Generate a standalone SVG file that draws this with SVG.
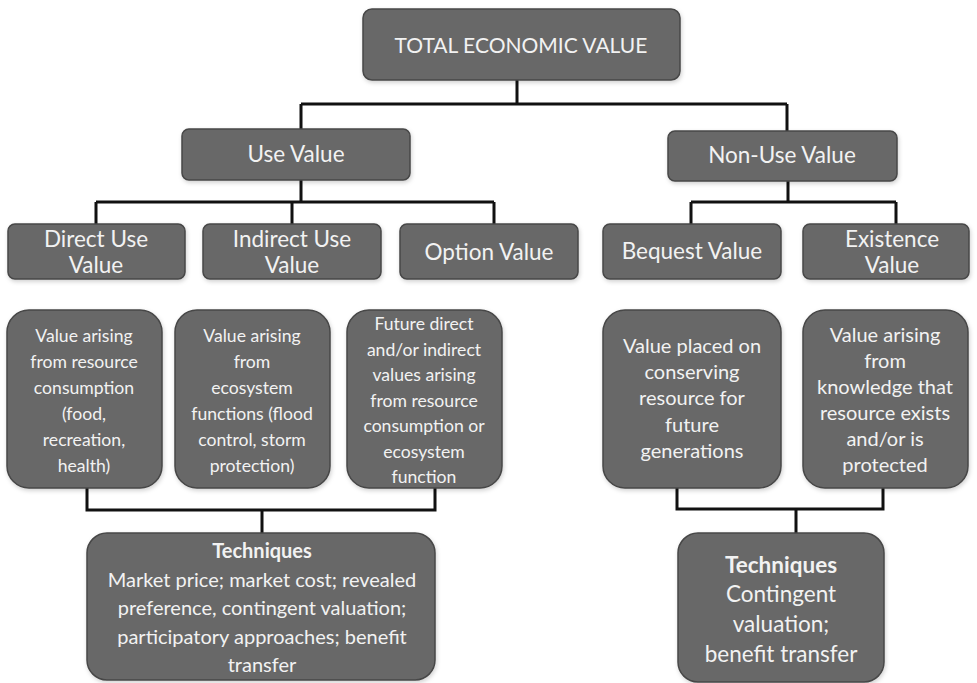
<svg xmlns="http://www.w3.org/2000/svg" width="977" height="683" viewBox="0 0 977 683">
<defs>
<filter id="sh" x="-10%" y="-10%" width="120%" height="125%">
<feDropShadow dx="1" dy="2" stdDeviation="2" flood-color="#000" flood-opacity="0.18"/>
</filter>
<style>
.box{fill:#686868;stroke:#474747;stroke-width:1.5;filter:url(#sh)}
.t{font-family:Lato,"Open Sans","Liberation Sans",sans-serif;fill:#f2f2f2;text-anchor:middle}
.h{font-size:21px}
.m{font-size:22.5px}
.d{font-size:17.6px}
.e{font-size:20px}
.k{font-size:20px}
.r{font-size:22.5px}
.b{font-weight:bold}
.c{fill:none;stroke:#111;stroke-width:3;stroke-linejoin:miter}
</style>
</defs>
<rect width="977" height="683" fill="#fff"/>
<g id="connectors">
<path class="c" d="M517 80V104M301 104H787M301 104V129M787 104V131"/>
<path class="c" d="M301 180V202M96 202H494M96 202V224M292 202V224M494 202V224"/>
<path class="c" d="M788 181V202M691 202H896M691 202V224M896 202V224"/>
<path class="c" d="M87 488V510H435V488M262 510V533"/>
<path class="c" d="M677 488V509H883V488M796 509V533"/>
</g>
<g id="total"><rect class="box" x="363" y="9" width="317" height="71" rx="9"/><text class="t h" x="521" y="53">TOTAL ECONOMIC VALUE</text></g>
<g id="use"><rect class="box" x="182" y="129" width="228" height="51" rx="7"/><text class="t m" x="296" y="162">Use Value</text></g>
<g id="nonuse"><rect class="box" x="668" y="131" width="229" height="50" rx="7"/><text class="t m" x="782" y="163">Non-Use Value</text></g>
<g id="direct"><rect class="box" x="8" y="224" width="177" height="55" rx="7"/><text class="t m" x="96" y="247">Direct Use</text><text class="t m" x="96" y="273">Value</text></g>
<g id="indirect"><rect class="box" x="203" y="224" width="178" height="55" rx="7"/><text class="t m" x="292" y="247">Indirect Use</text><text class="t m" x="292" y="273">Value</text></g>
<g id="option"><rect class="box" x="400" y="224" width="178" height="55" rx="7"/><text class="t m" x="489" y="260">Option Value</text></g>
<g id="bequest"><rect class="box" x="603" y="224" width="178" height="55" rx="7"/><text class="t m" x="692" y="259">Bequest Value</text></g>
<g id="existence"><rect class="box" x="803" y="224" width="166" height="55" rx="7"/><text class="t m" x="892" y="247">Existence</text><text class="t m" x="892" y="273">Value</text></g>
<g id="direct-desc"><rect class="box" x="7" y="310" width="155" height="178" rx="22"/>
<text class="t d" x="84" y="342">Value arising</text><text class="t d" x="84" y="368">from resource</text><text class="t d" x="84" y="394">consumption</text><text class="t d" x="84" y="420">(food,</text><text class="t d" x="84" y="446">recreation,</text><text class="t d" x="84" y="472">health)</text></g>
<g id="indirect-desc"><rect class="box" x="175" y="310" width="155" height="178" rx="22"/>
<text class="t d" x="252" y="342">Value arising</text><text class="t d" x="252" y="368">from</text><text class="t d" x="252" y="394">ecosystem</text><text class="t d" x="252" y="420">functions (flood</text><text class="t d" x="252" y="446">control, storm</text><text class="t d" x="252" y="472">protection)</text></g>
<g id="option-desc"><rect class="box" x="347" y="310" width="155" height="178" rx="22"/>
<text class="t d" x="424" y="330">Future direct</text><text class="t d" x="424" y="355.5">and/or indirect</text><text class="t d" x="424" y="381">values arising</text><text class="t d" x="424" y="406.5">from resource</text><text class="t d" x="424" y="432">consumption or</text><text class="t d" x="424" y="457.5">ecosystem</text><text class="t d" x="424" y="483">function</text></g>
<g id="bequest-desc"><rect class="box" x="603" y="310" width="178" height="178" rx="22"/>
<text class="t e" x="692" y="353">Value placed on</text><text class="t e" x="692" y="379">conserving</text><text class="t e" x="692" y="405">resource for</text><text class="t e" x="692" y="431.5">future</text><text class="t e" x="692" y="458">generations</text></g>
<g id="existence-desc"><rect class="box" x="803" y="310" width="165" height="178" rx="22"/>
<text class="t e" x="885" y="342">Value arising</text><text class="t e" x="885" y="368">from</text><text class="t e" x="885" y="394">knowledge that</text><text class="t e" x="885" y="420">resource exists</text><text class="t e" x="885" y="446">and/or is</text><text class="t e" x="885" y="472">protected</text></g>
<g id="techniques-use"><rect class="box" x="87" y="533" width="348" height="147" rx="20"/>
<text class="t k b" x="262" y="558">Techniques</text><text class="t k" x="262" y="586.5">Market price; market cost; revealed</text><text class="t k" x="262" y="615">preference, contingent valuation;</text><text class="t k" x="262" y="643.5">participatory approaches; benefit</text><text class="t k" x="262" y="672">transfer</text></g>
<g id="techniques-nonuse"><rect class="box" x="678" y="533" width="206" height="149" rx="20"/>
<text class="t r b" x="781" y="573">Techniques</text><text class="t r" x="781" y="602">Contingent</text><text class="t r" x="781" y="632">valuation;</text><text class="t r" x="781" y="662">benefit transfer</text></g>
</svg>
